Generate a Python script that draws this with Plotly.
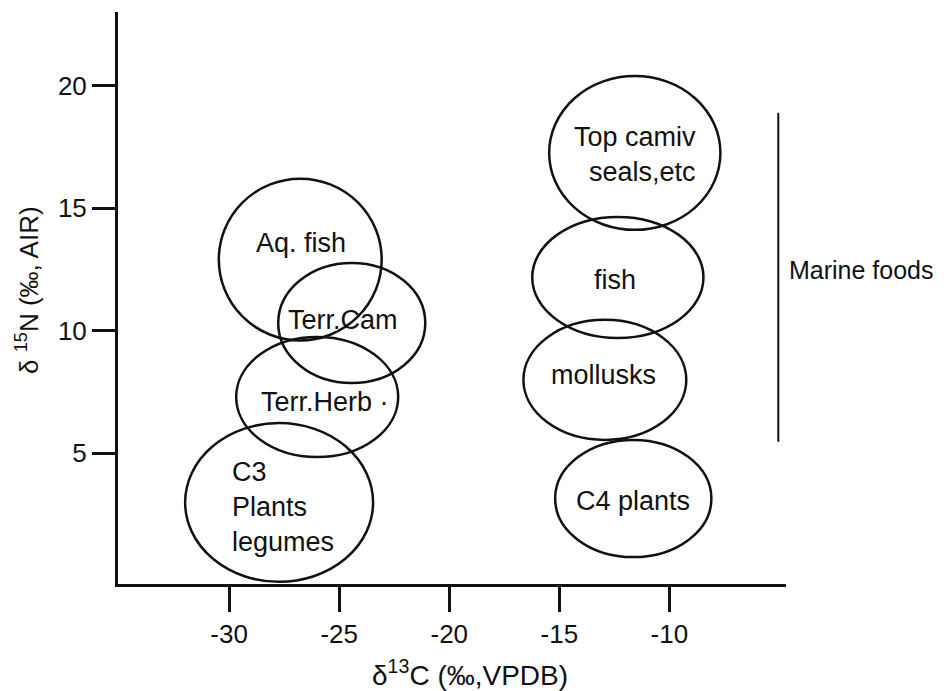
import plotly.graph_objects as go

# Isotope ranges of food groups (delta13C, delta15N), drawn as ellipses
groups = ["Aq. fish", "Terr.Cam", "Terr.Herb", "C3", "Top camiv", "fish", "mollusks", "C4 plants"]
center_c = [-26.77, -24.43, -26.00, -27.73, -11.57, -12.34, -12.93, -11.64]
center_n = [12.90, 10.31, 7.29, 2.99, 17.25, 12.17, 7.99, 3.15]
half_c = [3.70, 3.34, 3.68, 4.27, 3.89, 3.89, 3.70, 3.55]
half_n = [3.30, 2.45, 2.45, 3.24, 3.14, 2.47, 2.45, 2.39]

# Labels written inside the ellipses
label_text = ["Aq. fish", "Terr.Cam", "Terr.Herb ·", "C3<br>Plants<br>legumes",
              "Top camiv<br>seals,etc", "fish", "mollusks", "C4 plants"]
label_c = [-26.73, -24.84, -25.64, -29.95, -8.68, -12.45, -13.00, -11.64]
label_n = [13.57, 10.44, 7.09, 2.80, 17.19, 12.07, 8.19, 3.05]
label_anchor = ["center", "center", "center", "left", "right", "center", "center", "center"]

# Bracket marking the marine food groups
marine_c = -5.05
marine_n = [5.46, 18.89]
marine_label = "Marine foods"
marine_label_n = 12.47

x_ticks = [-30, -25, -20, -15, -10]
y_ticks = [5, 10, 15, 20]

FONT = "Liberation Sans, Arial, sans-serif"
INK = "#111111"
TXT = 27

W, H = 944, 691
ml, mr, mt, mb = 118, 158, 12, 107
pw, ph = W - ml - mr, H - mt - mb
x_range = [-35.05, -4.7]
y_range = [-0.34, 23.0]

fig = go.Figure()
# invisible trace so the axes are created
fig.add_trace(go.Scatter(x=[center_c[0]], y=[center_n[0]], mode="markers",
                         marker=dict(opacity=0), hoverinfo="skip", showlegend=False))

shapes = []
for cx, cy, rx, ry in zip(center_c, center_n, half_c, half_n):
    shapes.append(dict(type="circle", xref="x", yref="y",
                       x0=cx - rx, x1=cx + rx, y0=cy - ry, y1=cy + ry,
                       line=dict(color=INK, width=2.5), fillcolor="rgba(0,0,0,0)"))
shapes.append(dict(type="line", xref="x", yref="y", x0=marine_c, x1=marine_c,
                   y0=marine_n[0], y1=marine_n[1], line=dict(color=INK, width=2)))

annotations = []
for t, x, y, a in zip(label_text, label_c, label_n, label_anchor):
    annotations.append(dict(text=t, x=x, y=y, xref="x", yref="y", xanchor=a, align=a,
                            yanchor="middle", showarrow=False,
                            font=dict(family=FONT, size=TXT, color=INK)))


def px_x(p):
    return (p - ml) / pw


def px_y(p):
    return 1 - (p - mt) / ph


# label beside the marine bracket, placed just past the right end of the x axis
marine_y_paper = (marine_label_n - y_range[0]) / (y_range[1] - y_range[0])
annotations.append(dict(text=marine_label, x=px_x(787), y=marine_y_paper, xref="paper", yref="paper",
                        xanchor="left", yanchor="middle", showarrow=False,
                        font=dict(family=FONT, size=25, color=INK)))
# axis titles
annotations.append(dict(text="δ<sup>13</sup>C (‰,VPDB)", x=px_x(470), y=px_y(673),
                        xref="paper", yref="paper", xanchor="center", yanchor="middle",
                        showarrow=False, font=dict(family=FONT, size=28, color=INK)))
annotations.append(dict(text="δ <sup>15</sup>N (‰, AIR)", x=px_x(27), y=px_y(290), textangle=-90,
                        xref="paper", yref="paper", xanchor="center", yanchor="middle",
                        showarrow=False, font=dict(family=FONT, size=26, color=INK)))

fig.update_layout(
    width=W, height=H,
    margin=dict(l=ml, r=mr, t=mt, b=mb),
    paper_bgcolor="white", plot_bgcolor="white",
    shapes=shapes, annotations=annotations,
    showlegend=False,
    xaxis=dict(range=x_range, tickvals=x_ticks, ticktext=[str(v) for v in x_ticks],
               showgrid=False, zeroline=False, showline=True, linecolor=INK, linewidth=3,
               ticks="outside", ticklen=25, tickwidth=2.5, tickcolor=INK,
               tickfont=dict(family=FONT, size=26, color=INK), fixedrange=True),
    yaxis=dict(range=y_range, tickvals=y_ticks, ticktext=[str(v) for v in y_ticks],
               showgrid=False, zeroline=False, showline=True, linecolor=INK, linewidth=3,
               ticks="outside", ticklen=23, tickwidth=2.5, tickcolor=INK,
               tickfont=dict(family=FONT, size=26, color=INK), fixedrange=True),
)

fig.write_html("out.html", config={"displayModeBar": False})
